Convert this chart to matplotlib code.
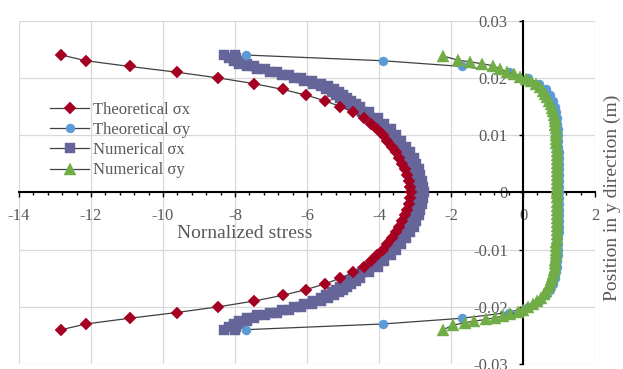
import numpy as np
import matplotlib
matplotlib.use('Agg')
import matplotlib.pyplot as plt
from matplotlib.ticker import MultipleLocator, FuncFormatter

plt.rcParams['font.family'] = 'Liberation Serif'
plt.rcParams['axes.unicode_minus'] = False

# Theoretical solution, sampled every 1 mm through the thickness
theo_y = [0.024, 0.023, 0.022, 0.021, 0.020, 0.019, 0.018, 0.017, 0.016, 0.015,
          0.014, 0.013, 0.012, 0.011, 0.010, 0.009, 0.008, 0.007, 0.006, 0.005,
          0.004, 0.003, 0.002, 0.001, 0.0,
          -0.001, -0.002, -0.003, -0.004, -0.005, -0.006, -0.007, -0.008, -0.009,
          -0.010, -0.011, -0.012, -0.013, -0.014, -0.015, -0.016, -0.017, -0.018,
          -0.019, -0.020, -0.021, -0.022, -0.023, -0.024]
theo_sx = [-12.82, -12.14, -10.92, -9.62, -8.46, -7.47, -6.68, -6.03, -5.50, -5.08,
           -4.71, -4.43, -4.22, -4.05, -3.90, -3.77, -3.65, -3.54, -3.45, -3.36,
           -3.29, -3.23, -3.17, -3.14, -3.12,
           -3.14, -3.17, -3.23, -3.29, -3.36, -3.45, -3.54, -3.65, -3.77,
           -3.90, -4.05, -4.22, -4.43, -4.71, -5.08, -5.50, -6.03, -6.68,
           -7.47, -8.46, -9.62, -10.92, -12.14, -12.82]
theo_sy = [-7.70, -3.88, -1.69, -0.40, 0.15, 0.45, 0.64, 0.76, 0.84, 0.89,
           0.92, 0.94, 0.955, 0.965, 0.975, 0.98, 0.985, 0.99, 0.99, 0.995,
           0.995, 1.0, 1.0, 1.0, 1.0,
           1.0, 1.0, 1.0, 0.995, 0.995, 0.99, 0.99, 0.985, 0.98,
           0.975, 0.965, 0.955, 0.94, 0.92, 0.89, 0.84, 0.76, 0.64,
           0.45, 0.15, -0.40, -1.69, -3.88, -7.70]

# FE result for sigma_x: two node columns per y level
num_sx_y = [0.024, 0.0235, 0.023, 0.0225, 0.022, 0.0215, 0.021, 0.0205, 0.020, 0.0195,
            0.019, 0.0185, 0.018, 0.0175, 0.017, 0.0165, 0.016, 0.0155, 0.015, 0.014,
            0.013, 0.012, 0.011, 0.010, 0.009, 0.008, 0.007, 0.006, 0.005, 0.004,
            0.003, 0.002, 0.001, 0.0,
            -0.001, -0.002, -0.003, -0.004, -0.005, -0.006, -0.007, -0.008, -0.009,
            -0.010, -0.011, -0.012, -0.013, -0.014, -0.015, -0.0155, -0.016, -0.0165,
            -0.017, -0.0175, -0.018, -0.0185, -0.019, -0.0195, -0.020, -0.0205, -0.021,
            -0.0215, -0.022, -0.0225, -0.023, -0.0235, -0.024]
num_sx_a = [-8.30, -8.16, -8.04, -7.88, -7.68, -7.38, -7.04, -6.69, -6.36, -6.07,
            -5.82, -5.62, -5.46, -5.31, -5.19, -5.09, -4.98, -4.85, -4.72, -4.47,
            -4.24, -4.05, -3.88, -3.72, -3.58, -3.46, -3.34, -3.24, -3.16, -3.10,
            -3.05, -3.01, -2.98, -2.96,
            -2.98, -3.01, -3.05, -3.10, -3.16, -3.24, -3.34, -3.46, -3.58,
            -3.72, -3.88, -4.05, -4.24, -4.47, -4.72, -4.85, -4.98, -5.09,
            -5.19, -5.31, -5.46, -5.62, -5.82, -6.07, -6.36, -6.69, -7.04,
            -7.38, -7.68, -7.88, -8.04, -8.16, -8.30]
num_sx_b = [-8.00, -7.96, -7.84, -7.68, -7.48, -7.18, -6.84, -6.49, -6.16, -5.87,
            -5.62, -5.42, -5.26, -5.11, -4.99, -4.89, -4.78, -4.65, -4.52, -4.27,
            -4.04, -3.85, -3.68, -3.52, -3.38, -3.26, -3.14, -3.04, -2.96, -2.90,
            -2.85, -2.81, -2.78, -2.76,
            -2.78, -2.81, -2.85, -2.90, -2.96, -3.04, -3.14, -3.26, -3.38,
            -3.52, -3.68, -3.85, -4.04, -4.27, -4.52, -4.65, -4.78, -4.89,
            -4.99, -5.11, -5.26, -5.42, -5.62, -5.87, -6.16, -6.49, -6.84,
            -7.18, -7.48, -7.68, -7.84, -7.96, -8.00]

# FE result for sigma_y
num_sy_y = [0.0238, 0.0231, 0.0228, 0.0225, 0.0221, 0.0216, 0.0211, 0.0206, 0.0202, 0.0198,
            0.0194, 0.0189, 0.0184, 0.0178, 0.0172, 0.0166, 0.0160, 0.0154, 0.0148, 0.0142,
            0.0136, 0.0130, 0.0124, 0.0118, 0.0112, 0.0106, 0.0100, 0.0093, 0.0086, 0.0079,
            0.0072, 0.0065, 0.0058, 0.0051, 0.0044, 0.0037, 0.0030, 0.0023, 0.0016, 0.0009,
            0.0002,
            -0.0002, -0.0009, -0.0016, -0.0023, -0.0030, -0.0037, -0.0044, -0.0051, -0.0058,
            -0.0065, -0.0072, -0.0079, -0.0086, -0.0093, -0.0100, -0.0106, -0.0112, -0.0118,
            -0.0124, -0.0130, -0.0136, -0.0142, -0.0148, -0.0154, -0.0160, -0.0166, -0.0172,
            -0.0178, -0.0184, -0.0190, -0.0196, -0.0201, -0.0205, -0.0209, -0.0213, -0.0216,
            -0.0219, -0.0222, -0.0225, -0.0228, -0.0232, -0.0240]
num_sy = [-2.21, -1.80, -1.47, -1.15, -0.82, -0.64, -0.45, -0.25, -0.08, 0.08,
          0.22, 0.35, 0.46, 0.55, 0.62, 0.68, 0.73, 0.77, 0.81, 0.84,
          0.86, 0.88, 0.89, 0.90, 0.91, 0.92, 0.92, 0.93, 0.93, 0.94,
          0.94, 0.94, 0.945, 0.945, 0.95, 0.95, 0.95, 0.95, 0.95, 0.95,
          0.95,
          0.95, 0.95, 0.95, 0.95, 0.95, 0.95, 0.95, 0.945, 0.945,
          0.94, 0.94, 0.94, 0.93, 0.93, 0.92, 0.92, 0.91, 0.90,
          0.89, 0.88, 0.86, 0.84, 0.81, 0.78, 0.74, 0.70, 0.65,
          0.58, 0.50, 0.40, 0.28, 0.14, 0.00, -0.15, -0.35, -0.55,
          -0.78, -1.02, -1.35, -1.62, -1.95, -2.21]

xticks = [-14, -12, -10, -8, -6, -4, -2, 0, 2]
yticks = [-0.03, -0.02, -0.01, 0.0, 0.01, 0.02, 0.03]

text_grey = '#595959'
line_grey = '#404040'

fig = plt.figure(figsize=(6.23, 3.69), dpi=100)
ax = fig.add_axes([19 / 623, 5 / 369, 576 / 623, 343.3 / 369])

# interleave the two node columns so they form one series
num_sx_x = np.column_stack([num_sx_a, num_sx_b]).ravel()
num_sx_yy = np.repeat(num_sx_y, 2)

ax.plot(num_sx_x, num_sx_yy, color=line_grey, lw=0.9, marker='s', ms=6.5,
        mfc='#65659A', mec='#65659A', mew=0.3, zorder=3, label='Numerical σx')
ax.plot(theo_sx, theo_y, color=line_grey, lw=0.9, marker='D', ms=6.2,
        mfc='#A50021', mec='#A50021', mew=0.3, zorder=4, label='Theoretical σx')
ax.plot(theo_sy, theo_y, color=line_grey, lw=0.9, marker='o', ms=6.5,
        mfc='#5B9BD5', mec='#5B9BD5', mew=0.3, zorder=5, label='Theoretical σy')
ax.plot(num_sy, num_sy_y, color=line_grey, lw=0.9, marker='^', ms=8.5,
        mfc='#70AD47', mec='#70AD47', mew=0.3, zorder=6, label='Numerical σy')

ax.set_xlim(-14, 2)
ax.set_ylim(-0.03, 0.03)
ax.set_xticks(xticks)
ax.set_yticks(yticks)
ax.xaxis.set_minor_locator(MultipleLocator(0.4))
fmt = FuncFormatter(lambda v, p: f'{round(v, 4) + 0.0:g}')
ax.xaxis.set_major_formatter(fmt)
ax.yaxis.set_major_formatter(fmt)

# axes cross at the origin
for side in ['top', 'right']:
    ax.spines[side].set_visible(False)
ax.spines['left'].set_position(('data', 0))
ax.spines['bottom'].set_position(('data', 0))
for side in ['left', 'bottom']:
    ax.spines[side].set_linewidth(1.5)
    ax.spines[side].set_zorder(2.5)

ax.grid(True, color='#D9D9D9', lw=0.9, zorder=0)
ax.set_axisbelow(True)

ax.tick_params(axis='x', which='major', direction='out', length=3.5, width=1,
               pad=7.5, labelsize=12, labelcolor=text_grey)
ax.tick_params(axis='x', which='minor', direction='out', length=2.5, width=1)
ax.tick_params(axis='y', which='major', direction='out', length=3, width=1,
               pad=8, labelsize=12, labelcolor=text_grey)

ax.set_xlabel('Nornalized stress', fontsize=14, color=text_grey)
ax.xaxis.set_label_coords((245 - 19) / 576, (364 - 225) / 343.3)
fig.text(612 / 623, 1 - 198 / 369, 'Position in y direction (m)', rotation=90,
         ha='center', va='center', fontsize=14, color=text_grey)

handles, labels = ax.get_legend_handles_labels()
order = [1, 2, 0, 3]
ax.legend([handles[i] for i in order], [labels[i] for i in order],
          loc='upper left', bbox_to_anchor=(50 / 623, 1 - 102 / 369),
          bbox_transform=fig.transFigure, frameon=False, fontsize=12,
          labelcolor=text_grey, handlelength=2.35, handletextpad=0.25,
          labelspacing=0.25, borderpad=0, borderaxespad=0)

fig.savefig('out.png', dpi=100)
